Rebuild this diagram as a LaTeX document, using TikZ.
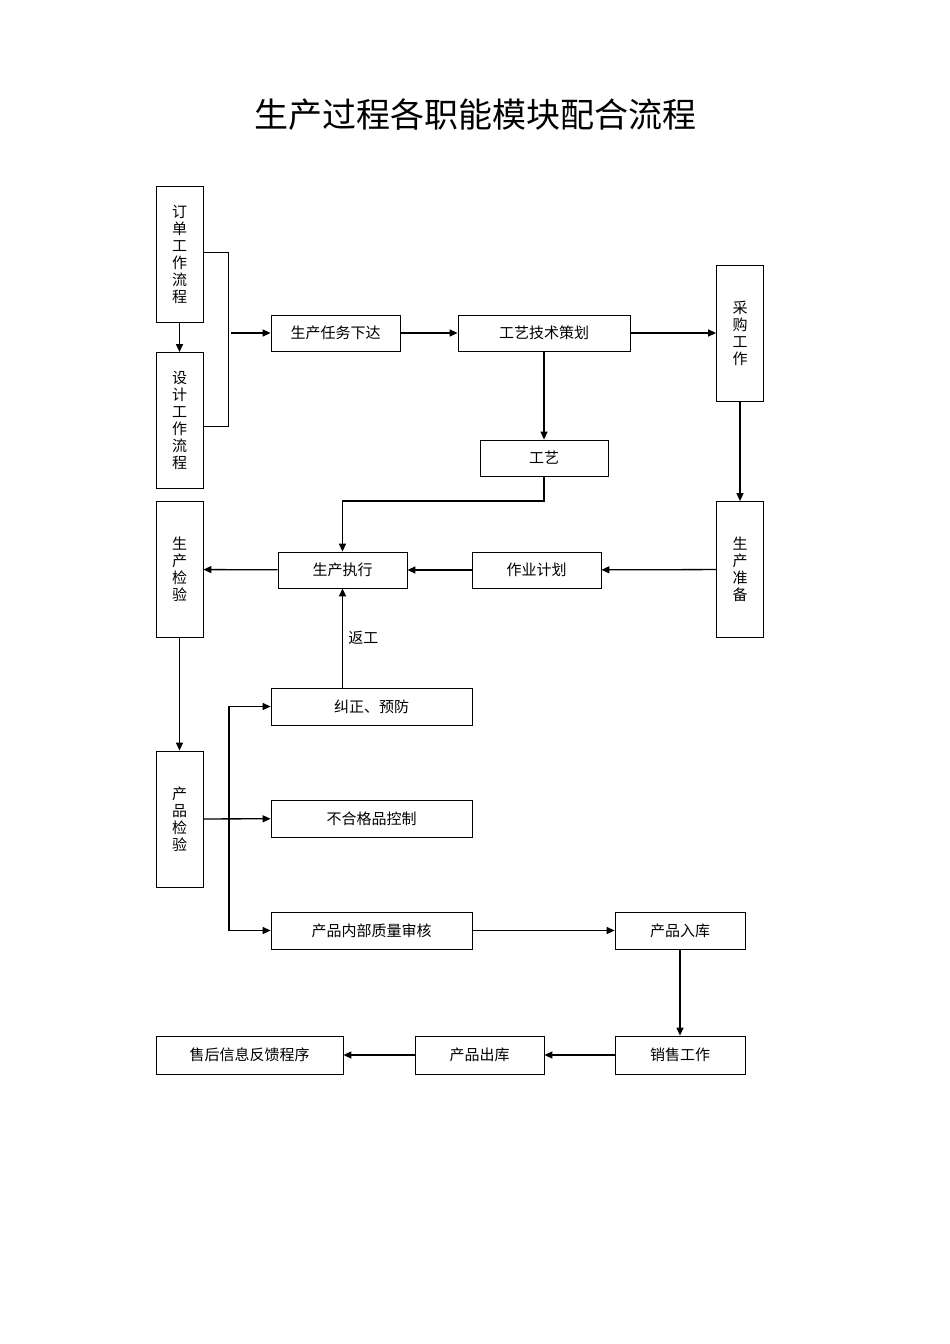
\documentclass[tikz,border=0pt]{standalone}
\usepackage{fontspec}
\setmainfont{Liberation Serif}
\newfontfamily\cjk{Noto Sans CJK SC}
\usetikzlibrary{arrows.meta}
\begin{document}
\begin{tikzpicture}[x=1pt,y=-1pt,
 box/.style={draw,line width=0.8pt,inner sep=0pt,font=\cjk\fontsize{15}{15}\selectfont},
 vbox/.style={box,minimum width=47pt,minimum height=136pt,align=center,font=\cjk\fontsize{15}{17}\selectfont},
 arr/.style={line width=1.3pt,-{Triangle[length=8pt,width=7pt]}},
 ln/.style={line width=0.8pt}]
\useasboundingbox (0,0) rectangle (950,1344);
\node[font=\cjk\fontsize{34}{34}\selectfont] at (475,115) {生产过程各职能模块配合流程};
\node[vbox] (dd) at (179.5,254) {订\\单\\工\\作\\流\\程};
\node[vbox] (sj) at (179.5,420.5) {设\\计\\工\\作\\流\\程};
\node[box,minimum width=129pt,minimum height=36pt] (rw) at (335.5,333) {生产任务下达};
\node[box,minimum width=172pt,minimum height=36pt] (js) at (544,333) {工艺技术策划};
\node[vbox] (cg) at (740,333) {采\\购\\工\\作};
\node[box,minimum width=128pt,minimum height=36pt] (gy) at (544,458) {工艺};
\node[vbox] (zb) at (740,569.5) {生\\产\\准\\备};
\node[box,minimum width=129pt,minimum height=36pt] (jh) at (536.5,570) {作业计划};
\node[box,minimum width=129pt,minimum height=36pt] (zx) at (342.5,570) {生产执行};
\node[vbox] (jy) at (179.5,569.5) {生\\产\\检\\验};
\node[box,minimum width=201pt,minimum height=37pt] (jz) at (371.5,706.5) {纠正、预防};
\node[vbox] (cj) at (179.5,819) {产\\品\\检\\验};
\node[box,minimum width=201pt,minimum height=37pt] (bh) at (371.5,818.5) {不合格品控制};
\node[box,minimum width=201pt,minimum height=37pt] (sh) at (371.5,930.5) {产品内部质量审核};
\node[box,minimum width=130pt,minimum height=37pt] (rk) at (680,930.5) {产品入库};
\node[box,minimum width=130pt,minimum height=38pt] (xs) at (680,1055) {销售工作};
\node[box,minimum width=129pt,minimum height=38pt] (ck) at (479.5,1055) {产品出库};
\node[box,minimum width=187pt,minimum height=38pt] (fk) at (249.5,1055) {售后信息反馈程序};
\coordinate (b1) at (228,252);
\coordinate (b2) at (228,426);
\coordinate (b3) at (231,333);
\draw[arr] (dd) -- (sj);
\draw[ln] (dd.east|-b1) -- (b1) -- (b2) -- (sj.east|-b2);
\draw[arr] (b3) -- (rw);
\draw[arr] (rw) -- (js);
\draw[arr] (js) -- (cg);
\draw[arr] (js) -- (gy);
\draw[arr] (gy.south) -- (544,501) -| (zx.north);
\draw[arr] (cg) -- (zb);
\draw[arr] (zb) -- (jh);
\draw[arr] (jh) -- (zx);
\draw[arr] (zx) -- (jy);
\draw[arr] (jz.north-|zx) -- node[right,font=\cjk\fontsize{15}{15}\selectfont,xshift=2pt]{返工} (zx.south);
\draw[arr] (jy) -- (cj);
\coordinate (v) at (229,818.5);
\draw[arr] (cj) -- (bh);
\draw[arr] (229,930.5) |- (jz.west);
\draw[arr] (229,818.5) |- (sh.west);
\draw[arr] (sh) -- (rk);
\draw[arr] (rk) -- (xs);
\draw[arr] (xs) -- (ck);
\draw[arr] (ck) -- (fk);
\end{tikzpicture}
\end{document}
